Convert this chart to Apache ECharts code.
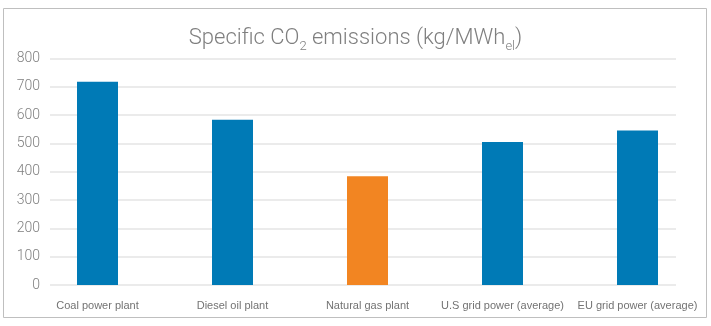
<!DOCTYPE html>
<html>
<head>
<meta charset="utf-8">
<script src="https://cdn.jsdelivr.net/npm/echarts@6/dist/echarts.min.js"></script>
<style>
html,body{margin:0;padding:0;background:#fff;}
#c{width:711px;height:326px;}
</style>
</head>
<body>
<div id="c"></div>
<script>
const categories = ['Coal power plant', 'Diesel oil plant', 'Natural gas plant', 'U.S grid power (average)', 'EU grid power (average)'];
const emissions = [718, 584, 384, 505, 546];
const barColors = ['#007ab6', '#007ab6', '#f28522', '#007ab6', '#007ab6'];
const yMin = 0, yMax = 800, yStep = 100;

const chart = echarts.init(document.getElementById('c'));
const grey = '#7f7f7f';
chart.setOption({
  animation: false,
  backgroundColor: '#fff',
  graphic: [{
    type: 'rect',
    shape: { x: 3.5, y: 8.5, width: 703, height: 309 },
    style: { fill: 'none', stroke: '#bfbfbf', lineWidth: 1 },
    silent: true, z: -1
  }],
  title: {
    text: '{a|Specific CO}{s|2}{a| emissions (kg/MWh}{s|el}{a|)}',
    left: 'center',
    top: 18,
    textStyle: {
      rich: {
        a: { fontFamily: 'Roboto', fontWeight: 300, fontSize: 22, color: grey, lineHeight: 30, verticalAlign: 'middle' },
        s: { fontFamily: 'Roboto', fontWeight: 300, fontSize: 13, color: grey, lineHeight: 30, verticalAlign: 'bottom' }
      }
    }
  },
  grid: [
    { left: 30, right: 6, top: 58.6, bottom: 41 },
    { left: 50, right: 35, top: 58.6, bottom: 41 }
  ],
  xAxis: [
    {
      gridIndex: 0, type: 'category', data: categories,
      axisLine: { show: false }, axisTick: { show: false },
      axisLabel: { color: '#737373', fontFamily: 'Liberation Sans', fontSize: 11, margin: 15, interval: 0 }
    },
    { gridIndex: 1, type: 'value', show: false }
  ],
  yAxis: [
    { gridIndex: 0, type: 'value', min: yMin, max: yMax, interval: yStep, show: false },
    {
      gridIndex: 1, type: 'value', min: yMin, max: yMax, interval: yStep,
      axisLine: { show: false }, axisTick: { show: false },
      splitLine: { lineStyle: { color: '#e4e4e4', width: 1.5 } },
      axisLabel: { color: grey, fontFamily: 'Roboto', fontWeight: 300, fontSize: 14, margin: 10 }
    }
  ],
  series: [{
    type: 'bar',
    xAxisIndex: 0, yAxisIndex: 0,
    barWidth: 41,
    z: 3,
    data: emissions.map((v, i) => ({ value: v, itemStyle: { color: barColors[i] } }))
  }]
});
</script>
</body>
</html>
